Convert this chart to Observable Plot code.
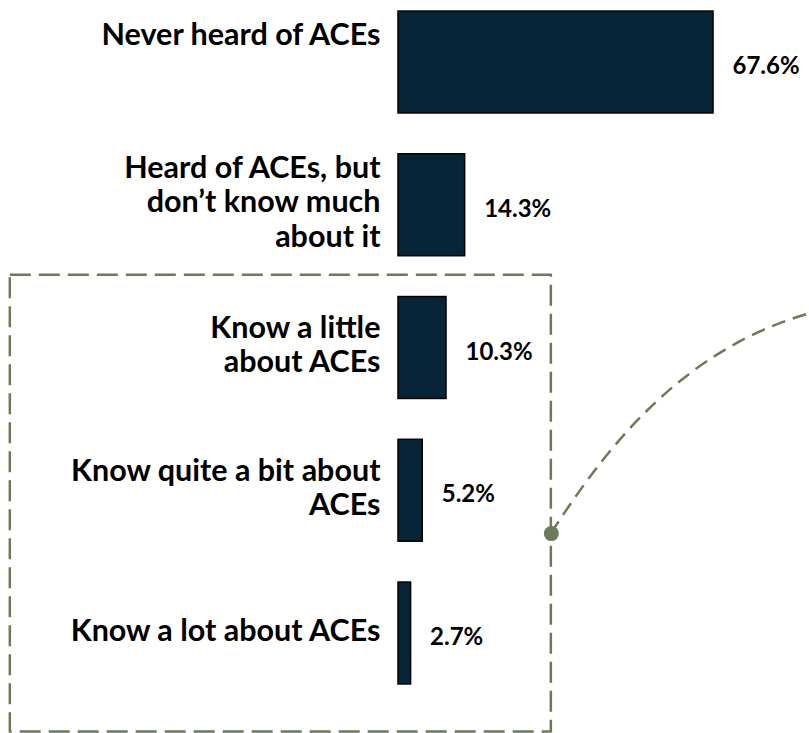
<!DOCTYPE html>
<html><head><meta charset="utf-8">
<script src="https://cdn.jsdelivr.net/npm/d3@7"></script>
<script src="https://cdn.jsdelivr.net/npm/@observablehq/plot@0.6"></script>
<style>body{margin:0;background:#fff} #chart{width:809px;height:733px}</style>
</head><body><div id="chart"></div>
<script>
const categories = ["Never heard of ACEs", "Heard of ACEs, but\ndon’t know much\nabout it", "Know a little\nabout ACEs", "Know quite a bit about\nACEs", "Know a lot about ACEs"];
const values = [67.6, 14.3, 10.3, 5.2, 2.7];
const valueLabels = ["67.6%", "14.3%", "10.3%", "5.2%", "2.7%"];

const data = categories.map((c, i) => ({category: c, value: values[i], label: valueLabels[i], i}));

// annotation (data units: x = percent, y = category index)
const boxX = [-83.3, 32.8];
const boxY = [1.49, 4.69];
const dotPt = {x: 32.8, y: 3.30};
const curveEnd = {x: 88.3, y: 1.76};

const green = "#6b7a58";
const font = "Lato, 'Open Sans', sans-serif";

const plot = Plot.plot({
  width: 809, height: 733,
  marginTop: 0, marginBottom: 0, marginLeft: 0, marginRight: 0,
  style: {fontFamily: font, background: "#fff"},
  x: {type: "linear", domain: [0, 100], range: [398, 864], axis: null},
  y: {type: "linear", domain: [0, 4], range: [62, 633], axis: null},
  marks: [
    Plot.rect([{}], {x1: boxX[0], x2: boxX[1], y1: boxY[0], y2: boxY[1], fill: "none", stroke: green, strokeWidth: 2.5, strokeDasharray: "21,8"}),
    Plot.rect(data, {x1: 0, x2: "value", y1: d => d.i - 0.357, y2: d => d.i + 0.357, fill: "#072539", stroke: "#000", strokeWidth: 1.5}),
    Plot.text(data.filter(d => d.i === 0), {x: 0, y: "i", text: "category", textAnchor: "end", dx: -18, dy: -29, fontSize: 30.5, fontWeight: "bold", fill: "#000", lineHeight: 1.13}),
    Plot.text(data.filter(d => d.i !== 0), {x: 0, y: "i", text: "category", textAnchor: "end", dx: -18, dy: -4, fontSize: 30.5, fontWeight: "bold", fill: "#000", lineHeight: 1.13}),
    Plot.text(data, {x: "value", y: "i", text: "label", textAnchor: "start", dx: 19, dy: 4, fontSize: 24, fontWeight: "bold", fill: "#000"}),
    Plot.dot([dotPt], {x: "x", y: "y", r: 7.5, fill: green, stroke: "none"})
  ]
});

const xs = plot.scale("x"), ys = plot.scale("y");
const x0 = xs.apply(dotPt.x), y0 = ys.apply(dotPt.y);
const x1 = xs.apply(curveEnd.x), y1 = ys.apply(curveEnd.y);
const p = d3.path();
p.moveTo(x0, y0);
p.bezierCurveTo(x0 + 0.17 * (x1 - x0), y0 - 0.30 * (y0 - y1), x0 + 0.46 * (x1 - x0), y0 - 0.82 * (y0 - y1), x1, y1);
d3.select(plot).append("path")
  .attr("d", p.toString())
  .attr("fill", "none")
  .attr("stroke", green)
  .attr("stroke-width", 2.5)
  .attr("stroke-dasharray", "14,8");

document.getElementById("chart").appendChild(plot);
</script>
</body></html>
